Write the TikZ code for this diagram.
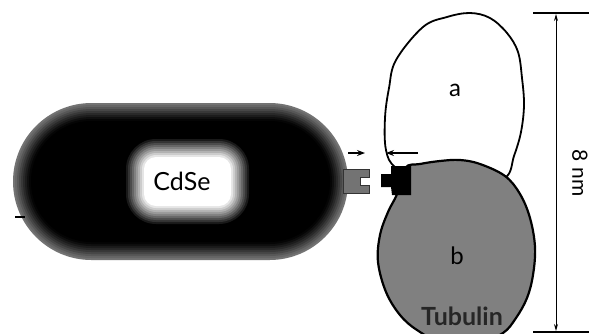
\documentclass[tikz,border=0pt]{standalone}
\usepackage{fontspec}
\setmainfont{Lato}
\usetikzlibrary{arrows.meta}
\tikzset{
  outline/.style={draw=black, line width=1.8pt, line join=round},
  ptr/.style={-{Stealth[length=8pt,width=6pt]}, line width=1.2pt},
  dim/.style={{Stealth[length=7pt,width=4pt]}-{Stealth[length=7pt,width=4pt]}, line width=1pt},
  lbl/.style={inner sep=0pt, font=\fontsize{24}{26}\selectfont}
}
\begin{document}
\begin{tikzpicture}[x=1pt, y=-1pt]
  \clip (0,0) rectangle (589,333);
  \fill[white] (0,0) rectangle (589,333);

  % quantum dot capsule: grey rim fading into a black shell
  \foreach \i/\c in {0/55,1/60,2/66,3/72,4/78,5/84,6/89,7/94,8/98,9/100}{
    \fill[black!\c, rounded corners={78.5pt-2*\i pt}]
      (13+2*\i,103+2*\i) rectangle (348-2*\i,260-2*\i);
  }
  % glowing CdSe core
  \foreach \i [evaluate=\i as \c using {int(max(100-10*\i,0))}] in {0,...,12}{
    \fill[black!\c, rounded corners={max(32-2*\i,4)*1pt}]
      (124+2*\i,137+2*\i) rectangle (251-2*\i,226-2*\i);
  }
  \node[lbl, font=\fontsize{25}{27}\selectfont, anchor=base] (cdse) at (182,190) {CdSe};

  % small mark on the left rim
  \coordinate (tickA) at (15,217);
  \coordinate (tickB) at (25,217);
  \draw[line width=1.2pt] (tickA) -- (tickB);

  % linker half on the dot
  \fill[black!55, draw=black!80, line width=0.5pt]
    (343,169) -- (369,169) -- (369,177) -- (360,177) -- (360,185)
    -- (369,185) -- (369,193) -- (343,193) -- cycle;

  % tubulin subunit a
  \draw[outline, fill=white] plot[smooth cycle, tension=0.6] coordinates {
    (396,168) (386,150) (385,118) (389,88) (396,60) (423,27) (447,17)
    (470,13) (490,18) (507,33) (518,52) (522,78) (524,105) (521,132)
    (514,156) (505,178) (470,188) (430,188)};
  \node[lbl] (a) at (455,90) {a};

  % tubulin subunit b
  \draw[outline, line width=2.2pt, fill=black!50] plot[smooth cycle, tension=0.6] coordinates {
    (405,168) (420,164) (440,161) (460,160) (480,164) (505,176) (520,194)
    (530,218) (535,247) (533,275) (527,298) (516,318) (503,333) (480,342)
    (440,341) (417,330) (400,315) (386,292) (378,262) (380,235) (388,212)
    (397,194)};
  \node[lbl] (b) at (457,256) {b};
  \node[lbl, font=\fontsize{25}{27}\selectfont\bfseries, text=black!85, anchor=base] (tub) at (462,325) {Tubulin};

  % linker half on the tubulin
  \fill[black] (381,174) -- (391,174) -- (391,166) -- (411,166) -- (411,195)
    -- (392,195) -- (391,187) -- (381,187) -- cycle;

  % arrows marking the two binding sites
  \coordinate (dotR) at (348,153);
  \coordinate (dotP) at (365,153);
  \coordinate (tubR) at (418,153);
  \coordinate (tubP) at (386,153);
  \draw[ptr] (dotR) -- (dotP);
  \draw[ptr] (tubR) -- (tubP);

  % 8 nm scale
  \coordinate (topL) at (533,13);
  \coordinate (topR) at (589,13);
  \coordinate (botL) at (533,332);
  \coordinate (botR) at (589,332);
  \coordinate (dimT) at (556,14);
  \coordinate (dimB) at (556,331);
  \draw[line width=1.6pt] (topL) -- (topR);
  \draw[line width=1.2pt] (botL) -- (botR);
  \draw[dim] (dimT) -- (dimB);
  \node[lbl, font=\fontsize{21}{23}\selectfont, rotate=-90] (scale) at (580,173) {8 nm};
\end{tikzpicture}
\end{document}
